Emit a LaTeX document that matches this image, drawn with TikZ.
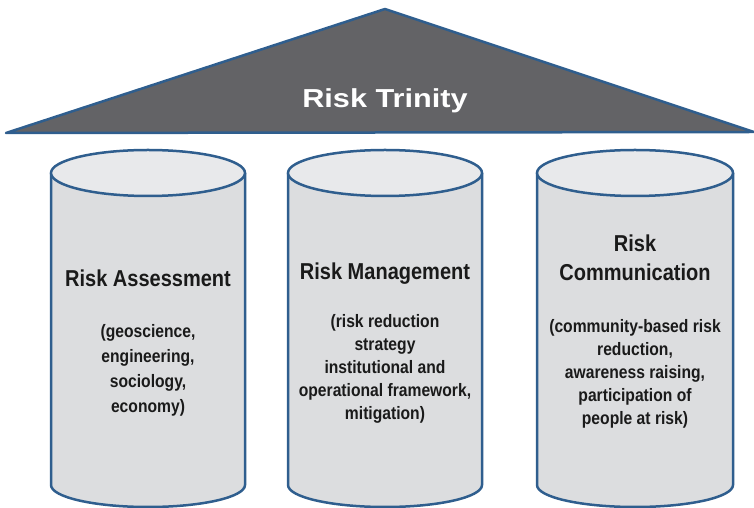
\documentclass[tikz,border=0pt]{standalone}
\usepackage{fontspec}
\setmainfont{Liberation Sans}
\newfontfamily\pillarfont{Liberation Sans}[FakeStretch=0.87]
\newfontfamily\rooffont{Liberation Sans}[FakeStretch=1.18]
\usetikzlibrary{positioning}
\definecolor{RoofGray}{HTML}{636366}
\definecolor{PillarBlue}{HTML}{2F5E8E}
\definecolor{PillarBody}{HTML}{DCDDDF}
\definecolor{PillarTop}{HTML}{E8E9EB}
\definecolor{PillarText}{HTML}{1A1A1A}

\begin{document}
\begin{tikzpicture}[
    x=1pt, y=1pt,
    roof/.style={draw=PillarBlue, fill=RoofGray, line width=2.5pt, line join=round},
    pillar/.style={draw=PillarBlue, fill=PillarBody, line width=2.5pt},
    pillartop/.style={draw=PillarBlue, fill=PillarTop, line width=2.5pt},
    heading/.style={font=\pillarfont\bfseries\fontsize{23}{29}\selectfont, text=PillarText, align=center},
    subtext/.style={font=\pillarfont\bfseries\fontsize{18}{23}\selectfont, text=PillarText, align=center}
]
  \useasboundingbox (0,0) rectangle (754,508);

  % -------------------------------------------------------------
  % ROOF
  % -------------------------------------------------------------
  \draw[roof] (6,375) -- (385,499) -- (754,376) -- cycle;
  \node[font=\rooffont\bfseries\fontsize{26}{30}\selectfont, text=white, anchor=base] (title) at (385,400) {Risk Trinity};

  % -------------------------------------------------------------
  % PILLAR 1: RISK ASSESSMENT
  % -------------------------------------------------------------
  \path[pillar, draw=none] (51,335) -- (51,23) arc[start angle=180, end angle=360, x radius=97, y radius=22] -- (245,335) -- cycle;
  \draw[pillar, fill=none] (51,335) -- (51,23) arc[start angle=180, end angle=360, x radius=97, y radius=22] -- (245,335);
  \draw[pillartop] (148,335) ellipse[x radius=97, y radius=23];
  \node[heading] (assess) at (148,230) {Risk Assessment};
  \node[subtext, font=\pillarfont\bfseries\fontsize{18}{25}\selectfont] (assess_txt) at (148,138) {(geoscience,\\ engineering,\\ sociology,\\ economy)};

  % -------------------------------------------------------------
  % PILLAR 2: RISK MANAGEMENT
  % -------------------------------------------------------------
  \path[pillar, draw=none] (288,335) -- (288,23) arc[start angle=180, end angle=360, x radius=97, y radius=22] -- (482,335) -- cycle;
  \draw[pillar, fill=none] (288,335) -- (288,23) arc[start angle=180, end angle=360, x radius=97, y radius=22] -- (482,335);
  \draw[pillartop] (385,335) ellipse[x radius=97, y radius=23];
  \node[heading] (manage) at (385,234) {Risk Management};
  \node[subtext] (manage_txt) at (385,139) {(risk reduction\\ strategy\\ institutional and\\ operational framework,\\ mitigation)};

  % -------------------------------------------------------------
  % PILLAR 3: RISK COMMUNICATION
  % -------------------------------------------------------------
  \path[pillar, draw=none] (537,335) -- (537,23) arc[start angle=180, end angle=360, x radius=98, y radius=22] -- (733,335) -- cycle;
  \draw[pillar, fill=none] (537,335) -- (537,23) arc[start angle=180, end angle=360, x radius=98, y radius=22] -- (733,335);
  \draw[pillartop] (635,335) ellipse[x radius=98, y radius=23];
  \node[heading] (comm) at (635,250) {Risk\\ Communication};
  \node[subtext] (comm_txt) at (635,134) {(community-based risk\\ reduction,\\ awareness raising,\\ participation of\\ people at risk)};

\end{tikzpicture}
\end{document}
